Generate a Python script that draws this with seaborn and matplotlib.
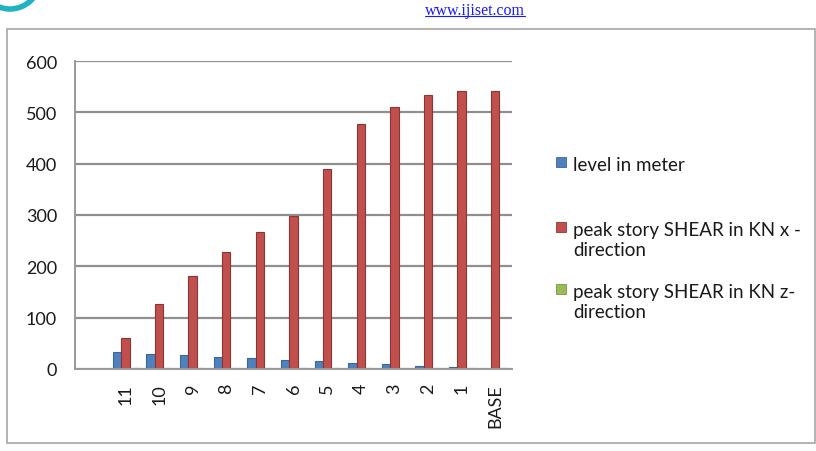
import matplotlib
matplotlib.use('Agg')
import matplotlib.pyplot as plt
import matplotlib.patches as mpatches
from matplotlib.transforms import IdentityTransform
import seaborn as sns
import pandas as pd
import numpy as np

# Story labels (first slot is empty in the original sheet)
floors = ['', '11', '10', '9', '8', '7', '6', '5', '4', '3', '2', '1', 'BASE']

# Values
level_m = [np.nan, 33, 30, 27, 24, 21, 18, 15, 12, 9, 6, 3, 0.5]
shear_x = [np.nan, 60, 127, 181, 228, 267, 298, 390, 478, 510, 533, 541, 541]
shear_z = [np.nan, 1, 1, 1, 1, 1, 1, 1, 1, 1, 1, 1, 1]

series = ['level in meter', 'peak story SHEAR in KN x -direction', 'peak story SHEAR in KN z-direction']
legend_text = ['level in meter', 'peak story SHEAR in KN x -\ndirection', 'peak story SHEAR in KN z-\ndirection']
colors = ['#4F81BD', '#C0504D', '#9BBB59']
edge_colors = ['#3A6699', '#8E3533', '#7A9645']

df = pd.DataFrame({'floor': floors, series[0]: level_m, series[1]: shear_x, series[2]: shear_z})
df = df.melt(id_vars='floor', var_name='series', value_name='value').dropna()

sns.set_style('white')
plt.rcParams['font.family'] = ['Lato', 'DejaVu Sans']

W, H = 816, 452
fig = plt.figure(figsize=(W / 100, H / 100), dpi=100)
ax = fig.add_axes([75 / W, 1 - 370 / H, 437 / W, 308 / H])

sns.barplot(data=df, x='floor', y='value', hue='series', order=floors, hue_order=series,
            palette=colors, width=0.75, ax=ax, saturation=1, legend=False)

# darker outline, a hint of the excel 3d look
for cont, ec in zip(ax.containers, edge_colors):
    for bar in cont:
        bar.set_edgecolor(ec)
        bar.set_linewidth(0.8)

ax.set_ylim(0, 600)
ax.set_yticks(range(0, 601, 100))
ax.set_xlabel('')
ax.set_ylabel('')
ax.yaxis.grid(True, color='#8f8f8f', lw=1.6)
ax.set_axisbelow(True)
for s in ['top', 'right']:
    ax.spines[s].set_visible(False)
for s in ['left', 'bottom']:
    ax.spines[s].set_color('#9a9a9a')
    ax.spines[s].set_linewidth(1.4)

ax.tick_params(axis='y', length=5, color='#9a9a9a', pad=8, labelsize=13, labelcolor='#1a1a1a')
ax.tick_params(axis='x', which='major', length=0, pad=10, labelsize=13, labelcolor='#1a1a1a', rotation=90)
ax.set_xticks(np.arange(-0.5, len(floors), 1), minor=True)
ax.tick_params(axis='x', which='minor', length=5, color='#9a9a9a', width=1)

# legend drawn by hand so the wrapped entries get excel-like line spacing
legend_rows = [163, 228, 290]  # y of first text line, pixels from top
for txt, col, ec, yrow in zip(legend_text, colors, edge_colors, legend_rows):
    fig.patches.append(mpatches.Rectangle((556, H - yrow - 5), 10, 10, transform=IdentityTransform(),
                                          facecolor=col, edgecolor=ec, lw=0.6))
    fig.text(573 / W, 1 - (yrow - 6) / H, txt, ha='left', va='top', fontsize=13.5,
             color='#1a1a1a', linespacing=1.25)

# outer chart frame
fig.patches.append(mpatches.Rectangle((7 / W, 1 - 444 / H), 808 / W, 414 / H,
                                      transform=fig.transFigure, fill=False,
                                      edgecolor='#a6a6a6', lw=1.2))

# page header with underline
hdr = fig.text(475 / W, 1 - 11 / H, 'www.ijiset.com', ha='center', va='center',
               color='#1a1aff', fontsize=11.5, family=['Liberation Serif', 'DejaVu Serif'])
fig.canvas.draw()
bb = hdr.get_window_extent().transformed(fig.transFigure.inverted())
fig.add_artist(plt.Line2D([bb.x0, bb.x1], [bb.y0 + 0.004, bb.y0 + 0.004],
                          transform=fig.transFigure, color='#1a1aff', lw=0.8))

# logo fragment in the top-left corner (pixel coordinates)
fig.patches.append(mpatches.Circle((10, H + 20), 30, transform=IdentityTransform(),
                                   fill=False, edgecolor='#22b3c2', lw=4))

fig.savefig('out.png', dpi=100)
